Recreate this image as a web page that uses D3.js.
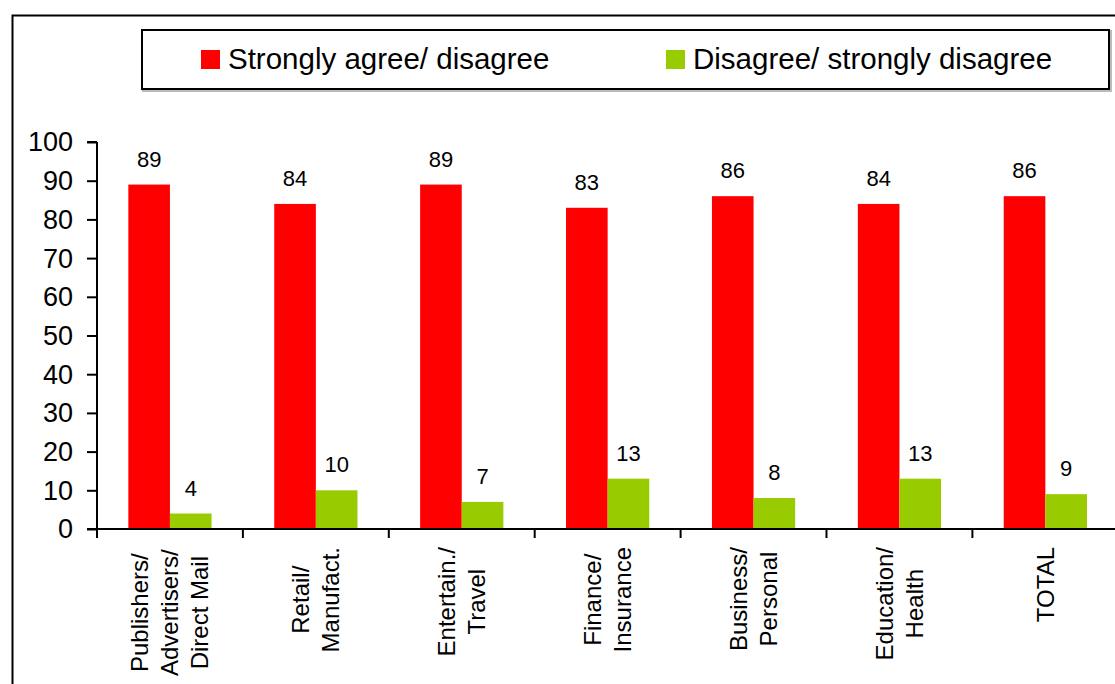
<!DOCTYPE html>
<html>
<head>
<meta charset="utf-8">
<script src="https://cdn.jsdelivr.net/npm/d3@7"></script>
<style>
  html, body { margin: 0; padding: 0; background: #fff; }
  svg { display: block; font-family: "Liberation Sans", Arial, sans-serif; }
</style>
</head>
<body>
<svg id="chart" width="1115" height="684"></svg>
<script>
// Sector breakdown of agreement
const categories = [
  ["Publishers/", "Advertisers/", "Direct Mail"],
  ["Retail/", "Manufact."],
  ["Entertain./", "Travel"],
  ["Finance/", "Insurance"],
  ["Business/", "Personal"],
  ["Education/", "Health"],
  ["TOTAL"]
];
const seriesNames = ["Strongly agree/ disagree", "Disagree/ strongly disagree"];
const agreeValues = [89, 84, 89, 83, 86, 84, 86];
const disagreeValues = [4, 10, 7, 13, 8, 13, 9];
const yTicks = [0, 10, 20, 30, 40, 50, 60, 70, 80, 90, 100];
const seriesColors = ["#FF0000", "#99CC00"];

const svg = d3.select("#chart");
const catKeys = categories.map(c => c.join(" "));
const seriesValues = [agreeValues, disagreeValues];

// outer frame
svg.append("rect")
  .attr("x", 12.5).attr("y", 15.5)
  .attr("width", 1120).attr("height", 690)
  .attr("fill", "none").attr("stroke", "#000").attr("stroke-width", 2);

// scales
const plotLeft = 97, plotTop = 142, plotBottom = 529, groupW = 145.9;
const x = d3.scaleBand().domain(catKeys)
  .range([plotLeft, plotLeft + groupW * catKeys.length]).padding(0);
const xs = d3.scaleBand().domain([0, 1]).range([0, x.bandwidth()])
  .paddingInner(0).paddingOuter(0.753);
const y = d3.scaleLinear().domain([0, 100]).range([plotBottom, plotTop]);

// bars
const groups = svg.append("g").selectAll("g")
  .data(catKeys).join("g")
  .attr("transform", d => `translate(${x(d)},0)`);

groups.each(function(k, i) {
  const g = d3.select(this);
  [0, 1].forEach(s => {
    const v = seriesValues[s][i];
    g.append("rect")
      .attr("x", xs(s)).attr("width", xs.bandwidth())
      .attr("y", y(v)).attr("height", y(0) - y(v))
      .attr("fill", seriesColors[s]);
    g.append("text")
      .attr("x", xs(s) + xs.bandwidth() / 2)
      .attr("y", y(v) - 18)
      .attr("text-anchor", "middle")
      .attr("font-size", 22)
      .attr("fill", "#000")
      .text(v);
  });
});

// y axis
const yAxis = d3.axisLeft(y).tickValues(yTicks).tickSize(10).tickPadding(14);
const yg = svg.append("g").attr("transform", `translate(${plotLeft},0)`).call(yAxis);
yg.select(".domain").attr("stroke", "#000").attr("stroke-width", 2)
  .attr("d", `M0,${plotTop}H-10M0,${plotTop}V${plotBottom}`);
yg.selectAll(".tick line").attr("stroke", "#000").attr("stroke-width", 2);
yg.selectAll(".tick text").attr("font-size", 27).attr("fill", "#000")
  .attr("font-family", "Liberation Sans, Arial, sans-serif").attr("dy", "0.33em");

// x axis baseline and category separators
const xg = svg.append("g");
xg.append("line")
  .attr("x1", plotLeft - 10).attr("x2", 1115)
  .attr("y1", y(0)).attr("y2", y(0))
  .attr("stroke", "#000").attr("stroke-width", 2);
const seps = catKeys.map(k => x(k));
xg.selectAll("line.sep").data(seps).join("line")
  .attr("class", "sep")
  .attr("x1", d => d).attr("x2", d => d)
  .attr("y1", y(0)).attr("y2", y(0) + 9)
  .attr("stroke", "#000").attr("stroke-width", 2);

// rotated category labels, lines centred on each other, block hung below the axis
const lineGap = 30;
const labelTop = 547;
const labelBottom = 676;
categories.forEach((lines, i) => {
  const cx = x(catKeys[i]) + x.bandwidth() / 2;
  const g = svg.append("g");
  const texts = lines.map((ln, j) => {
    const lx = cx + (j - (lines.length - 1) / 2) * lineGap;
    return g.append("text")
      .attr("font-size", 24).attr("fill", "#000")
      .attr("text-anchor", "middle")
      .attr("dy", "0.35em")
      .text(ln)
      .datum(lx);
  });
  const maxLen = d3.max(texts, t => t.node().getComputedTextLength());
  const top = lines.length > 2 ? labelBottom - maxLen : labelTop;
  const cy = top + maxLen / 2;
  texts.forEach(t => {
    const lx = t.datum();
    t.attr("transform", `translate(${lx},${cy}) rotate(-90)`);
  });
});

// legend
const lg = svg.append("g");
lg.append("rect")
  .attr("x", 143).attr("y", 31).attr("width", 968).attr("height", 60)
  .attr("fill", "none").attr("stroke", "#bbb").attr("stroke-width", 2);
lg.append("rect")
  .attr("x", 142).attr("y", 30).attr("width", 967).attr("height", 59)
  .attr("fill", "#fff").attr("stroke", "#000").attr("stroke-width", 2);
const legendX = [201, 666];
seriesNames.forEach((name, s) => {
  lg.append("rect")
    .attr("x", legendX[s]).attr("y", 50).attr("width", 19).attr("height", 19)
    .attr("fill", seriesColors[s]);
  lg.append("text")
    .attr("x", legendX[s] + 27).attr("y", 69)
    .attr("font-size", 29.5).attr("fill", "#000")
    .text(name);
});
</script>
</body>
</html>
